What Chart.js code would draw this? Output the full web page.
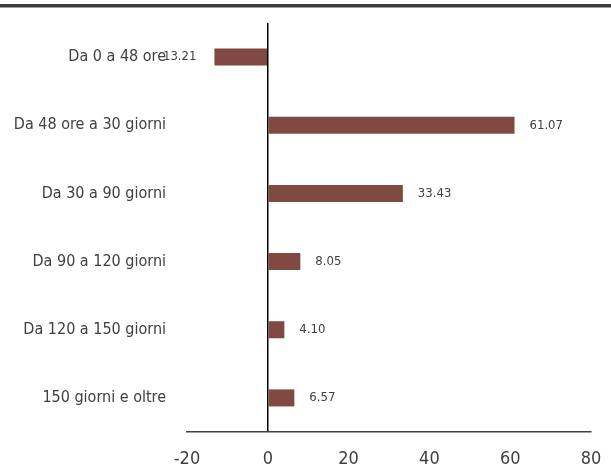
<!DOCTYPE html>
<html>
<head>
<meta charset="utf-8">
<script src="https://cdn.jsdelivr.net/npm/chart.js@4"></script>
<style>
html,body{margin:0;padding:0;background:#fff;}
#wrap{width:611px;height:474px;position:relative;}
</style>
</head>
<body>
<div id="wrap"><canvas id="c"></canvas></div>
<script>
const categories = ["Da 0 a 48 ore","Da 48 ore a 30 giorni","Da 30 a 90 giorni","Da 90 a 120 giorni","Da 120 a 150 giorni","150 giorni e oltre"];
const values = [-13.21, 61.07, 33.43, 8.05, 4.10, 6.57];
const xTicks = [-20, 0, 20, 40, 60, 80];

const FONT = "'DejaVu Sans Condensed','Liberation Sans Narrow',sans-serif";
const TXT = '#404040';

const topLine = {
  id:'topLine',
  beforeDraw(chart){
    const ctx = chart.ctx;
    ctx.save();
    ctx.fillStyle = '#3f3f3f';
    ctx.fillRect(0, 4, chart.width, 3.5);
    ctx.restore();
  }
};
const valueLabels = {
  id:'valueLabels',
  afterDatasetsDraw(chart){
    const ctx = chart.ctx;
    const meta = chart.getDatasetMeta(0);
    ctx.save();
    ctx.font = "13px " + FONT;
    ctx.fillStyle = TXT;
    ctx.textBaseline = 'middle';
    meta.data.forEach((bar, i) => {
      const v = values[i];
      const s = v.toFixed(2);
      if (v < 0) { ctx.textAlign = 'right'; ctx.fillText(s, bar.x - 18, bar.y); }
      else { ctx.textAlign = 'left'; ctx.fillText(s, bar.x + 15, bar.y); }
    });
    ctx.restore();
  }
};

new Chart(document.getElementById('c'), {
  type:'bar',
  data:{
    labels: categories,
    datasets:[{data: values, backgroundColor:'#804a42', barPercentage:0.5, categoryPercentage:0.5}]
  },
  plugins:[topLine, valueLabels],
  options:{
    indexAxis:'y',
    responsive:true,
    maintainAspectRatio:false,
    animation:false,
    layout:{padding:{top:23, right:20, left:0, bottom:0}},
    plugins:{legend:{display:false}, tooltip:{enabled:false}},
    scales:{
      x:{
        min:-20, max:80,
        afterBuildTicks(s){ s.ticks = xTicks.map(v=>({value:v})); },
        afterFit(s){ s.height = 42; s.paddingLeft = 0; s.paddingRight = 0; },
        grid:{
          drawTicks:false,
          color:(c)=> c.tick && c.tick.value === 0 ? '#000' : 'rgba(0,0,0,0)',
          lineWidth:1.5
        },
        border:{display:true, color:'#404040', width:1.5},
        ticks:{padding:17, color:TXT, font:{family:FONT, size:18}}
      },
      y:{
        afterFit(s){ s.width = 187; s.paddingTop = 0; s.paddingBottom = 0; },
        grid:{display:false, drawTicks:false},
        border:{display:false},
        ticks:{padding:21, color:TXT, font:{family:FONT, size:16}}
      }
    }
  }
});
</script>
</body>
</html>
